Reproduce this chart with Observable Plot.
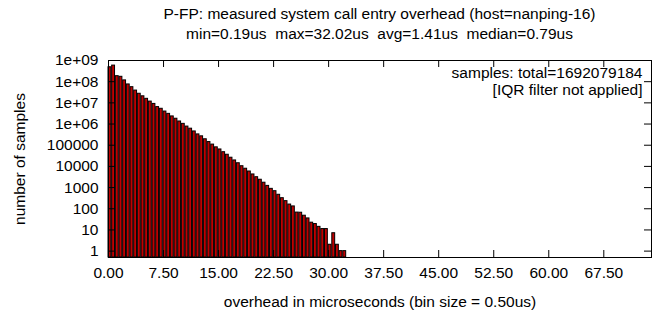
<!DOCTYPE html>
<html><head><meta charset="utf-8">
<script src="https://cdn.jsdelivr.net/npm/d3@7"></script>
<script src="https://cdn.jsdelivr.net/npm/@observablehq/plot@0.6"></script>
<style>
body{margin:0;background:#fff;font-family:"Liberation Sans",Arial,sans-serif;}
#wrap{position:relative;width:667px;height:320px;}
#title{position:absolute;left:108px;width:543px;top:4px;text-align:center;font-size:15.5px;line-height:20px;white-space:pre;color:#000;}
#chart{position:absolute;left:0;top:0;}
</style></head><body>
<div id="wrap"><div id="chart"></div><div id="title"></div></div>
<script>
const titleLines = [
  "P-FP: measured system call entry overhead (host=nanping-16)",
  "min=0.19us  max=32.02us  avg=1.41us  median=0.79us"
];
const binSize = 0.5;
// samples per 0.5us bin, starting at 0.00us
const counts = [
  479000000, 575000000, 182000000, 170000000, 115000000, 74100000, 55000000, 38000000,
  26900000, 20400000, 15500000, 11500000, 8910000, 6310000, 5250000, 3890000,
  3020000, 2290000, 1780000, 1320000, 1020000, 759000, 603000, 447000,
  324000, 263000, 191000, 141000, 107000, 79400, 63100, 46800,
  35500, 25700, 19100, 14100, 10200, 7760, 5750, 4170,
  3090, 2344, 1698, 1202, 871, 676, 457, 316,
  229, 158, 129, 66, 65, 47, 35, 22,
  19, 14, 11, 11, 2, 7, 2, 1, 1
];
const xTicks = [0, 7.5, 15, 22.5, 30, 37.5, 45, 52.5, 60, 67.5];
const yTicks = [1, 10, 100, 1000, 10000, 100000, 1e6, 1e7, 1e8, 1e9];
const yTickLabels = ["1", "10", "100", "1000", "10000", "100000", "1e+06", "1e+07", "1e+08", "1e+09"];
const sampleNote = ["samples: total=1692079184", "[IQR filter not applied]"];
const xLabel = "overhead in microseconds (bin size = 0.50us)";
const yLabel = "number of samples";
const xDomain = [0, 74];
const yDomain = [0.5, 1e9];

document.getElementById("title").textContent = titleLines.join("\n");

const bins = counts.map((c, i) => ({x1: i * binSize, x2: (i + 1) * binSize, count: c}));
const yLabelMap = new Map(yTicks.map((t, i) => [t, yTickLabels[i]]));

const W = 667, H = 320, mL = 108, mR = 16, mT = 60, mB = 63;
const pw = W - mL - mR, ph = H - mT - mB, tk = 7;
const font = "'Liberation Sans', Arial, sans-serif";

const chart = Plot.plot({
  width: W, height: H,
  marginLeft: mL, marginRight: mR, marginTop: mT, marginBottom: mB,
  style: {fontFamily: font, fontSize: "15.5px", color: "#000", background: "#fff"},
  x: {domain: xDomain},
  y: {type: "log", domain: yDomain},
  marks: [
    Plot.rect(bins, {x1: "x1", x2: "x2", y1: () => yDomain[0], y2: "count",
      fill: "#c00000", stroke: "#000", strokeWidth: 1, insetRight: 0.8}),
    Plot.tickX(xTicks, {x: d => d, insetTop: ph - tk, stroke: "#000"}),
    Plot.tickX(xTicks, {x: d => d, insetBottom: ph - tk, stroke: "#000"}),
    Plot.tickY(yTicks, {y: d => d, insetRight: pw - tk, stroke: "#000"}),
    Plot.tickY(yTicks, {y: d => d, insetLeft: pw - tk, stroke: "#000"}),
    Plot.frame({stroke: "#000", strokeWidth: 1}),
    Plot.axisX(xTicks, {tickSize: 0, tickPadding: 9, tickFormat: d3.format(".2f"), label: null}),
    Plot.axisY(yTicks, {tickSize: 0, tickPadding: 10, tickFormat: d => yLabelMap.get(d), label: null}),
    Plot.text([xLabel], {text: d => d, frameAnchor: "bottom", dy: 45, lineAnchor: "middle", textAnchor: "middle"}),
    Plot.text([yLabel], {text: d => d, frameAnchor: "left", dx: -88, rotate: -90, lineAnchor: "middle", textAnchor: "middle"}),
    Plot.text([sampleNote.join("\n")], {text: d => d, frameAnchor: "top-right", dx: -9, dy: 6,
      textAnchor: "end", lineAnchor: "top", lineHeight: 1.08})
  ]
});
document.getElementById("chart").appendChild(chart);
</script>
</body></html>
